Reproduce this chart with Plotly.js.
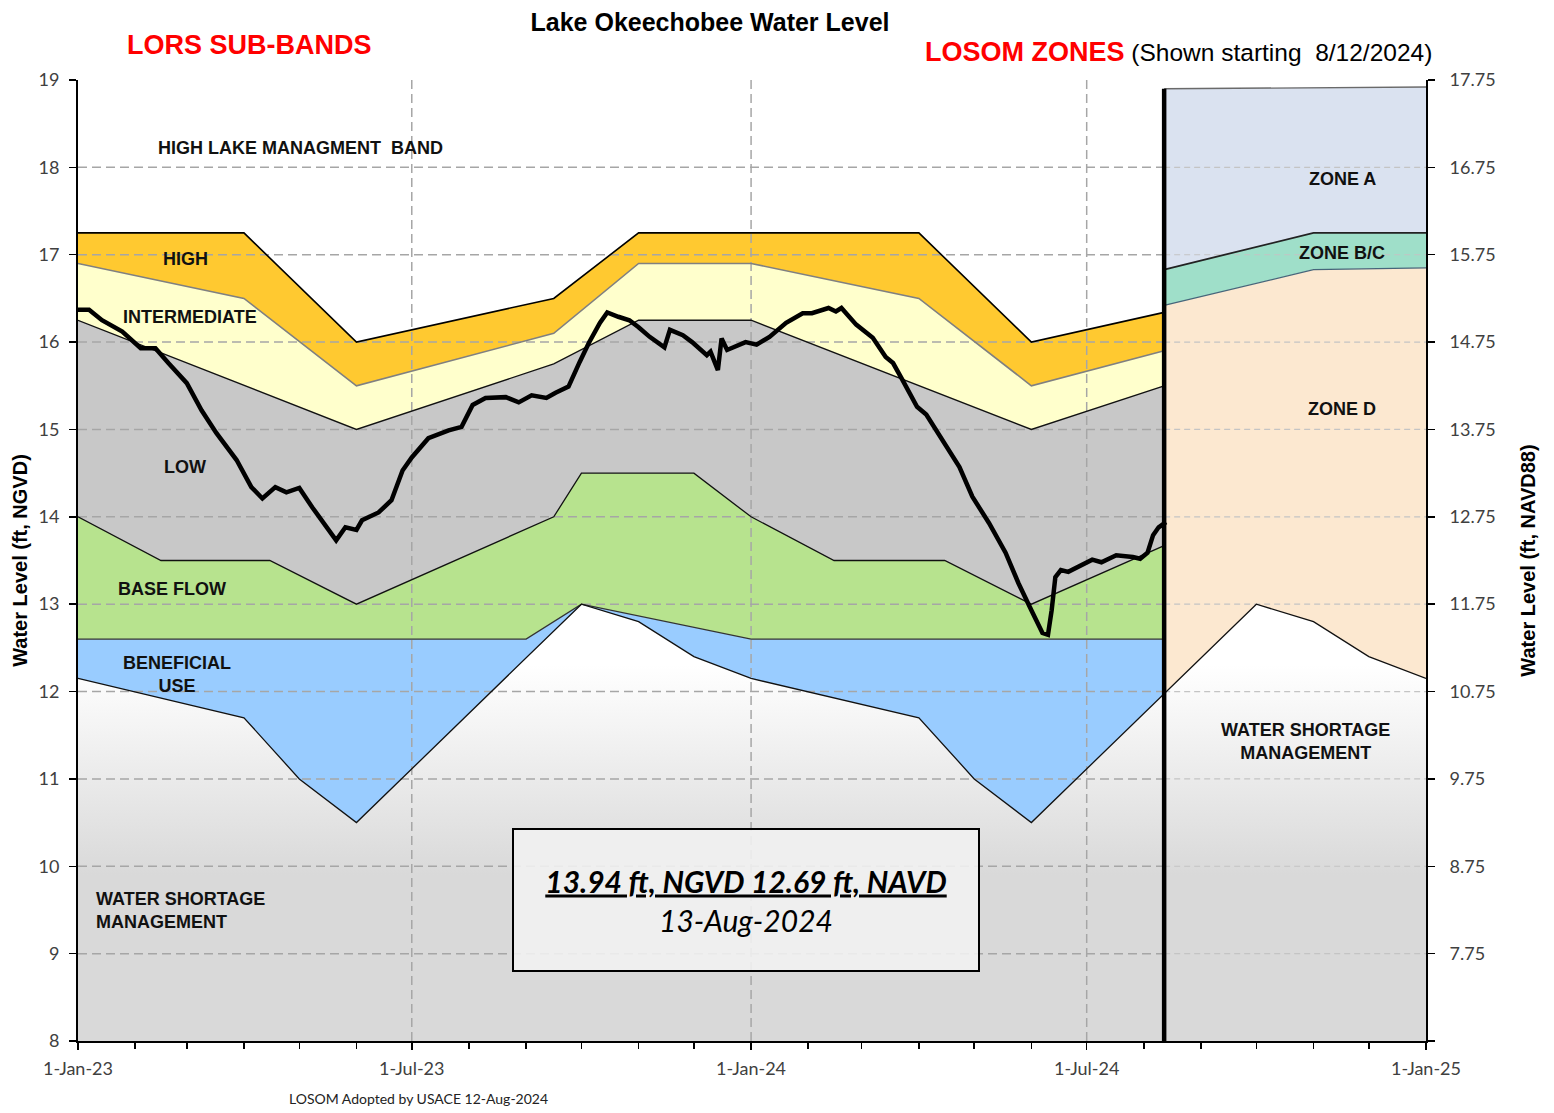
<!DOCTYPE html>
<html>
<head>
<meta charset="utf-8">
<script src="https://cdn.plot.ly/plotly-3.0.1.min.js"></script>
<style>html,body{margin:0;padding:0;background:#fff;}#chart{width:1554px;height:1113px;}</style>
</head>
<body>
<div id="chart"></div>
<script>
// ---------------- DATA ----------------
const X_START = '2023-01-01';
const X_END = '2025-01-01';
const LOSOM_START = '2024-08-12';
const Y_MIN = 8, Y_MAX = 19;
const DATUM_SHIFT = 1.25; // NGVD - NAVD88

const yTicks = [8, 9, 10, 11, 12, 13, 14, 15, 16, 17, 18, 19];
const y2Ticks = [6.75, 7.75, 8.75, 9.75, 10.75, 11.75, 12.75, 13.75, 14.75, 15.75, 16.75, 17.75];
const y2TickText = ['', '7.75', '8.75', '9.75', '10.75', '11.75', '12.75', '13.75', '14.75', '15.75', '16.75', '17.75'];
const xGridDates = ['2023-07-01', '2024-01-01', '2024-07-01'];

// LORS sub-band boundaries (ft NGVD)
const highTopX = ['2023-01-01','2023-04-01','2023-06-01','2023-09-16','2023-11-01','2024-04-01','2024-06-01','2024-08-12'];
const highTopY = [17.25, 17.25, 16.0, 16.5, 17.25, 17.25, 16.0, 16.34];

const interTopX = ['2023-01-01','2023-04-01','2023-06-01','2023-09-16','2023-11-01','2024-01-01','2024-04-01','2024-06-01','2024-08-12'];
const interTopY = [16.9, 16.5, 15.5, 16.1, 16.9, 16.9, 16.5, 15.5, 15.9];

const lowTopX = ['2023-01-01','2023-06-01','2023-09-16','2023-11-01','2024-01-01','2024-06-01','2024-08-12'];
const lowTopY = [16.25, 15.0, 15.75, 16.25, 16.25, 15.0, 15.5];

const baseTopX = ['2023-01-01','2023-02-15','2023-04-15','2023-06-01','2023-09-16','2023-10-01','2023-12-01','2024-01-01','2024-02-15','2024-04-15','2024-06-01','2024-08-12'];
const baseTopY = [14.0, 13.5, 13.5, 13.0, 14.0, 14.5, 14.5, 14.0, 13.5, 13.5, 13.0, 13.67];

const benTopX = ['2023-01-01','2023-09-01','2023-10-01','2024-01-01','2024-08-12'];
const benTopY = [12.6, 12.6, 13.0, 12.6, 12.6];

const shortTopX = ['2023-01-01','2023-04-01','2023-05-01','2023-06-01','2023-10-01','2023-11-01','2023-12-01','2024-01-01','2024-04-01','2024-05-01','2024-06-01','2024-08-12','2024-10-01','2024-11-01','2024-12-01','2025-01-01'];
const shortTopY = [12.15, 11.7, 11.0, 10.5, 13.0, 12.8, 12.4, 12.15, 11.7, 11.0, 10.5, 11.98, 13.0, 12.8, 12.4, 12.15];

// LOSOM zone boundaries (ft NGVD)
const zoneATopX = ['2024-08-12','2025-01-01'];
const zoneATopY = [18.9, 18.92];
const zoneBCTopX = ['2024-08-12','2024-11-01','2025-01-01'];
const zoneBCTopY = [16.83, 17.25, 17.25];
const zoneDTopX = ['2024-08-12','2024-11-01','2025-01-01'];
const zoneDTopY = [16.42, 16.83, 16.85];

// Lake stage (ft NGVD)
const wlDates = ['2023-01-01','2023-01-07','2023-01-14','2023-01-25','2023-02-04','2023-02-12','2023-02-19','2023-03-01','2023-03-09','2023-03-17','2023-03-28','2023-04-05','2023-04-11','2023-04-18','2023-04-24','2023-05-01','2023-05-08','2023-05-16','2023-05-21','2023-05-26','2023-06-01','2023-06-04','2023-06-13','2023-06-20','2023-06-26','2023-07-01','2023-07-10','2023-07-21','2023-07-28','2023-08-03','2023-08-10','2023-08-21','2023-08-28','2023-09-04','2023-09-12','2023-09-17','2023-09-24','2023-09-30','2023-10-05','2023-10-11','2023-10-15','2023-10-21','2023-10-27','2023-11-01','2023-11-07','2023-11-15','2023-11-18','2023-11-25','2023-11-30','2023-12-08','2023-12-10','2023-12-14','2023-12-16','2023-12-19','2023-12-29','2024-01-04','2024-01-11','2024-01-20','2024-01-29','2024-02-03','2024-02-12','2024-02-16','2024-02-19','2024-02-27','2024-03-07','2024-03-14','2024-03-18','2024-03-23','2024-03-31','2024-04-05','2024-04-14','2024-04-23','2024-04-30','2024-05-09','2024-05-18','2024-05-25','2024-06-01','2024-06-07','2024-06-10','2024-06-12','2024-06-14','2024-06-17','2024-06-21','2024-06-28','2024-07-04','2024-07-09','2024-07-17','2024-07-26','2024-07-30','2024-08-03','2024-08-06','2024-08-09','2024-08-13'];
const wlNGVD = [16.37,16.37,16.25,16.12,15.93,15.93,15.76,15.53,15.22,14.96,14.65,14.34,14.21,14.34,14.28,14.33,14.11,13.88,13.73,13.88,13.85,13.96,14.05,14.19,14.53,14.68,14.90,14.99,15.03,15.28,15.36,15.37,15.31,15.39,15.36,15.42,15.49,15.77,15.99,16.22,16.34,16.29,16.25,16.17,16.06,15.94,16.14,16.08,16.00,15.85,15.89,15.68,16.04,15.91,16.00,15.97,16.06,16.22,16.33,16.33,16.39,16.35,16.39,16.20,16.05,15.83,15.76,15.57,15.26,15.17,14.88,14.57,14.23,13.93,13.59,13.24,12.93,12.67,12.65,12.93,13.31,13.39,13.37,13.45,13.51,13.48,13.56,13.54,13.52,13.59,13.79,13.88,13.94];

// ---------------- HELPERS ----------------
function partUpTo(xs, ys, limit) {
  const x = [], y = [];
  xs.forEach((d, i) => { if (d <= limit) { x.push(d); y.push(ys[i]); } });
  return {x, y};
}
function partFrom(xs, ys, limit) {
  const x = [], y = [];
  xs.forEach((d, i) => { if (d >= limit) { x.push(d); y.push(ys[i]); } });
  return {x, y};
}
function band(ux, uy, lx, ly, color) {
  return {
    type: 'scatter', mode: 'lines',
    x: ux.concat(lx.slice().reverse()),
    y: uy.concat(ly.slice().reverse()),
    fill: 'toself', fillcolor: color,
    line: {width: 0}, hoverinfo: 'skip', showlegend: false
  };
}
function edge(xs, ys, color, width) {
  return {type: 'scatter', mode: 'lines', x: xs, y: ys,
    line: {color: color, width: width}, hoverinfo: 'skip', showlegend: false};
}
const MONTHS = ['Jan','Feb','Mar','Apr','May','Jun','Jul','Aug','Sep','Oct','Nov','Dec'];
function fmtLong(s) { const p = s.split('-'); return (+p[2]) + '-' + MONTHS[+p[1]-1] + '-' + p[0]; }
function fmtUS(s) { const p = s.split('-'); return (+p[1]) + '/' + (+p[2]) + '/' + p[0]; }

// plot-area pixel -> paper
const PL = 78, PR = 1426, PT = 80, PB = 1041;
function P(px, py) { return {x: (px - PL) / (PR - PL), y: (PB - py) / (PB - PT), xref: 'paper', yref: 'paper'}; }

// ---------------- TRACES ----------------
const shortLORS = partUpTo(shortTopX, shortTopY, LOSOM_START);
const shortLOSOM = partFrom(shortTopX, shortTopY, LOSOM_START);

const traces = [];

// water shortage management area (gradient)
traces.push({
  type: 'scatter', mode: 'lines',
  x: shortTopX.concat([X_END, X_START]),
  y: shortTopY.concat([Y_MIN, Y_MIN]),
  fill: 'toself',
  fillgradient: {type: 'vertical', colorscale: [[0, '#D9D9D9'], [1, '#FFFFFF']], start: 9.9, stop: 12.3},
  line: {width: 0}, hoverinfo: 'skip', showlegend: false
});

// LORS bands
traces.push(band(highTopX, highTopY, interTopX, interTopY, '#FFC930'));
traces.push(band(interTopX, interTopY, lowTopX, lowTopY, '#FFFFCC'));
traces.push(band(lowTopX, lowTopY, baseTopX, baseTopY, '#C8C8C8'));
traces.push(band(baseTopX, baseTopY, benTopX, benTopY, '#B7E38E'));
traces.push(band(benTopX, benTopY, shortLORS.x, shortLORS.y, '#99CCFF'));

// LOSOM zones
traces.push(band(zoneATopX, zoneATopY, zoneBCTopX, zoneBCTopY, '#DAE2F0'));
traces.push(band(zoneBCTopX, zoneBCTopY, zoneDTopX, zoneDTopY, '#9FDFC9'));
traces.push(band(zoneDTopX, zoneDTopY, shortLOSOM.x, shortLOSOM.y, '#FCE8D0'));

// gridlines (drawn over the fills, under the stage line)
const gridInner = yTicks.slice(1, -1);
const gLx = [], gLy = [], gRx = [], gRy = [];
gridInner.forEach(v => {
  gLx.push(X_START, LOSOM_START, null); gLy.push(v, v, null);
  gRx.push(LOSOM_START, X_END, null); gRy.push(v, v, null);
});
const gVx = [], gVy = [];
xGridDates.forEach(d => { gVx.push(d, d, null); gVy.push(Y_MIN, Y_MAX, null); });
traces.push({type: 'scatter', mode: 'lines', x: gLx, y: gLy, line: {color: '#A6A6A6', width: 1.5, dash: '9px,5px'}, hoverinfo: 'skip', showlegend: false});
traces.push({type: 'scatter', mode: 'lines', x: gRx, y: gRy, line: {color: '#C4C4C4', width: 1.2, dash: '6px,4px'}, hoverinfo: 'skip', showlegend: false});
traces.push({type: 'scatter', mode: 'lines', x: gVx, y: gVy, line: {color: '#A6A6A6', width: 1.5, dash: '9px,5px'}, hoverinfo: 'skip', showlegend: false});

// boundary lines
traces.push(edge(highTopX, highTopY, '#000000', 1.6));
traces.push(edge(interTopX, interTopY, '#808080', 1.6));
traces.push(edge(lowTopX, lowTopY, '#111111', 1.3));
traces.push(edge(baseTopX, baseTopY, '#111111', 1.3));
traces.push(edge(benTopX, benTopY, '#333333', 1.3));
traces.push(edge(shortTopX, shortTopY, '#111111', 1.3));
traces.push(edge(zoneATopX, zoneATopY, '#6A6A6A', 1.3));
traces.push(edge(zoneBCTopX, zoneBCTopY, '#222222', 1.8));
traces.push(edge(zoneDTopX, zoneDTopY, '#46657A', 1.2));

// LOSOM start divider
traces.push(edge([LOSOM_START, LOSOM_START], [zoneATopY[0], Y_MIN], '#000000', 4.5));

// lake stage
traces.push({type: 'scatter', mode: 'lines', x: wlDates, y: wlNGVD,
  line: {color: '#000000', width: 4.5}, hoverinfo: 'skip', showlegend: false});

// secondary axis host (NAVD88)
traces.push({type: 'scatter', mode: 'lines', x: [], y: [], yaxis: 'y2', hoverinfo: 'skip', showlegend: false});

// ---------------- ANNOTATIONS ----------------
const lastVal = wlNGVD[wlNGVD.length - 1];
const lastDate = wlDates[wlDates.length - 1];
const ARIAL = 'Liberation Sans, Arial, sans-serif';
const CALIBRI = 'Lato, Open Sans, sans-serif';
function lab(px, py, text, extra) {
  return Object.assign(P(px, py), {text: '<b>' + text + '</b>', showarrow: false,
    xanchor: 'center', yanchor: 'middle', font: {family: ARIAL, size: 18, color: '#111111'}}, extra || {});
}
const annotations = [
  Object.assign(P(249, 45), {text: '<b>LORS SUB-BANDS</b>', showarrow: false, xanchor: 'center', yanchor: 'middle',
    font: {family: ARIAL, size: 27, color: '#FF0000'}}),
  Object.assign(P(923, 52), {text: "<b><span style='color:#FF0000;font-size:27px'>LOSOM ZONES</span></b> (Shown starting&nbsp;&nbsp;" + fmtUS(LOSOM_START) + ")",
    showarrow: false, xanchor: 'left', yanchor: 'middle', font: {family: ARIAL, size: 24.5, color: '#000000'}}),
  lab(300, 148, 'HIGH LAKE MANAGMENT&nbsp;&nbsp;BAND'),
  lab(185, 259, 'HIGH'),
  lab(190, 317, 'INTERMEDIATE'),
  lab(185, 467, 'LOW'),
  lab(172, 589, 'BASE FLOW'),
  lab(177, 674, 'BENEFICIAL<br>USE'),
  lab(94, 910, 'WATER SHORTAGE<br>MANAGEMENT', {xanchor: 'left', align: 'left'}),
  lab(1342, 179, 'ZONE A'),
  lab(1342, 253, 'ZONE B/C'),
  lab(1342, 409, 'ZONE D'),
  lab(1305, 741, 'WATER SHORTAGE<br>MANAGEMENT'),
  Object.assign(P(746, 900), {
    text: '<b><i><u>' + lastVal.toFixed(2) + ' ft, NGVD ' + (lastVal - DATUM_SHIFT).toFixed(2) + ' ft, NAVD</u></i></b><br><i>' + fmtLong(lastDate) + '</i>',
    showarrow: false, xanchor: 'center', yanchor: 'middle', align: 'center', valign: 'middle',
    width: 464, height: 140, bgcolor: 'rgba(241,241,241,0.9)', bordercolor: '#000000', borderwidth: 2, borderpad: 0,
    font: {family: CALIBRI, size: 30, color: '#000000'}}),
  Object.assign(P(418, 1098), {text: 'LOSOM Adopted by USACE ' + fmtLong(LOSOM_START), showarrow: false,
    xanchor: 'center', yanchor: 'middle', font: {family: CALIBRI, size: 14, color: '#222222'}})
];

// ---------------- LAYOUT ----------------
const tickFont = {family: CALIBRI, size: 18, color: '#404040'};
const layout = {
  width: 1554, height: 1113,
  margin: {l: PL, r: 1554 - PR, t: PT, b: 1113 - PB, pad: 0},
  paper_bgcolor: '#FFFFFF', plot_bgcolor: '#FFFFFF',
  showlegend: false,
  title: {text: '<b>Lake Okeechobee Water Level</b>', font: {family: ARIAL, size: 25, color: '#000000'},
    xref: 'container', x: 710 / 1554, xanchor: 'center', yref: 'container', y: 1 - 22 / 1113, yanchor: 'middle'},
  xaxis: {type: 'date', range: [X_START, X_END], tick0: X_START, dtick: 'M6', tickformat: '%-d-%b-%y',
    ticks: 'outside', ticklen: 7, tickwidth: 1.5, tickcolor: '#000000',
    showline: true, linecolor: '#000000', linewidth: 2, showgrid: false, zeroline: false,
    minor: {dtick: 'M1', tick0: X_START, ticks: 'outside', ticklen: 6, tickwidth: 1.5, tickcolor: '#000000', showgrid: false},
    tickfont: tickFont, ticklabelstandoff: 3, fixedrange: true},
  yaxis: {range: [Y_MIN, Y_MAX], tickmode: 'array', tickvals: yTicks,
    ticks: 'outside', ticklen: 7, tickwidth: 1.5, tickcolor: '#000000',
    showline: true, linecolor: '#000000', linewidth: 2, showgrid: false, zeroline: false,
    tickfont: tickFont, ticklabelstandoff: 6, fixedrange: true,
    title: {text: '<b>Water Level (ft, NGVD)</b>', font: {family: ARIAL, size: 20, color: '#000000'}, standoff: 6}},
  yaxis2: {overlaying: 'y', side: 'right', range: [Y_MIN - DATUM_SHIFT, Y_MAX - DATUM_SHIFT],
    tickmode: 'array', tickvals: y2Ticks, ticktext: y2TickText,
    ticks: 'outside', ticklen: 7, tickwidth: 1.5, tickcolor: '#000000',
    showline: true, linecolor: '#000000', linewidth: 2, showgrid: false, zeroline: false,
    tickfont: tickFont, ticklabelstandoff: 11, fixedrange: true,
    title: {text: '<b>Water Level (ft, NAVD88)</b>', font: {family: ARIAL, size: 20, color: '#000000'}, standoff: 26}},
  annotations: annotations
};

Plotly.newPlot('chart', traces, layout, {displayModeBar: false, staticPlot: true});
</script>
</body>
</html>
